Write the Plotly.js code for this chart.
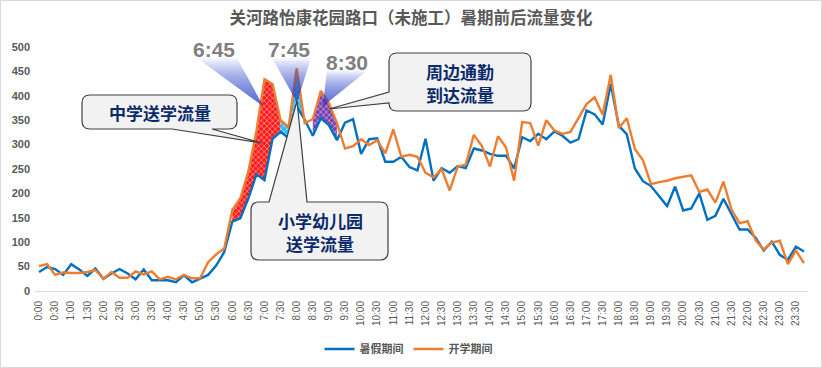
<!DOCTYPE html>
<html>
<head>
<meta charset="utf-8">
<script src="https://cdn.plot.ly/plotly-3.0.1.min.js"></script>
<style>
  html, body { margin: 0; padding: 0; background: #ffffff; }
  #chart { width: 822px; height: 368px; }
</style>
</head>
<body>
<div id="chart"></div>
<script>
// ---------------- DATA ----------------
const times = [
  '0:00','0:15','0:30','0:45','1:00','1:15','1:30','1:45','2:00','2:15','2:30','2:45',
  '3:00','3:15','3:30','3:45','4:00','4:15','4:30','4:45','5:00','5:15','5:30','5:45',
  '6:00','6:15','6:30','6:45','7:00','7:15','7:30','7:45','8:00','8:15','8:30','8:45',
  '9:00','9:15','9:30','9:45','10:00','10:15','10:30','10:45','11:00','11:15','11:30','11:45',
  '12:00','12:15','12:30','12:45','13:00','13:15','13:30','13:45','14:00','14:15','14:30','14:45',
  '15:00','15:15','15:30','15:45','16:00','16:15','16:30','16:45','17:00','17:15','17:30','17:45',
  '18:00','18:15','18:30','18:45','19:00','19:15','19:30','19:45','20:00','20:15','20:30','20:45',
  '21:00','21:15','21:30','21:45','22:00','22:15','22:30','22:45','23:00','23:15','23:30','23:45'
];
const tickLabels = times.filter((t, i) => i % 2 === 0);

const seriesNames = ['暑假期间', '开学期间'];

const summer = [
  39, 49, 45, 33, 55, 44, 31, 46, 25, 36, 45, 36,
  24, 44, 22, 22, 22, 18, 32, 18, 26, 33, 52, 80,
  142, 149, 190, 239, 227, 312, 326, 313, 378, 351, 318, 354,
  340, 309, 345, 352, 281, 311, 313, 265, 265, 275, 254, 247,
  312, 226, 252, 242, 256, 252, 292, 288, 281, 277, 277, 251,
  315, 307, 322, 311, 327, 318, 304, 311, 370, 362, 341, 424,
  339, 321, 251, 225, 215, 194, 174, 214, 165, 169, 200, 146,
  154, 189, 158, 126, 126, 109, 83, 101, 74, 64, 91, 81
];

const school = [
  51, 55, 33, 38, 37, 37, 39, 43, 25, 39, 27, 27,
  40, 34, 40, 24, 29, 24, 33, 26, 26, 59, 75, 87,
  166, 190, 245, 328, 434, 424, 350, 336, 456, 344, 352, 410,
  385, 344, 292, 297, 311, 299, 309, 282, 331, 275, 279, 275,
  242, 233, 250, 206, 255, 259, 320, 297, 255, 317, 294, 226,
  346, 344, 298, 350, 329, 322, 326, 356, 383, 397, 361, 443,
  334, 354, 291, 268, 219, 223, 226, 231, 234, 237, 203, 208,
  181, 224, 167, 139, 143, 104, 85, 99, 103, 55, 83, 57
];

// highlighted ranges (by time label): start, end
const bands = [
  { from: '6:00', to: '7:30', color: '#ff1a1a' },
  { from: '7:30', to: '8:15', color: '#1fb8f0' },
  { from: '8:30', to: '9:15', color: '#7a3fb0' }
];

// ---------------- CHART ----------------
const xIdx = times.map((t, i) => i);

// plot-area geometry in pixels (for decoration placement)
const W = 822, H = 368;
const PL = 35, PR = 808, PT = 47, PB = 291;
const fx = x => (x - PL) / (PR - PL);
const fy = y => (PB - y) / (PB - PT);
const P = (x, y) => fx(x).toFixed(5) + ',' + fy(y).toFixed(5);

const traces = [];

bands.forEach(b => {
  const a = times.indexOf(b.from), e = times.indexOf(b.to);
  const xs = [], ys = [];
  for (let i = a; i <= e; i++) { xs.push(xIdx[i]); ys.push(school[i]); }
  for (let i = e; i >= a; i--) { xs.push(xIdx[i]); ys.push(summer[i]); }
  traces.push({
    x: xs, y: ys, type: 'scatter', mode: 'lines', fill: 'toself',
    line: { width: 0 }, fillcolor: b.color,
    fillpattern: { shape: 'x', bgcolor: b.color, fgcolor: '#ffffff', size: 4, solidity: 0.2 },
    hoverinfo: 'skip', showlegend: false
  });
});

traces.push({
  x: xIdx, y: summer, name: seriesNames[0], type: 'scatter', mode: 'lines',
  line: { color: '#0070C0', width: 2.4 }
});
traces.push({
  x: xIdx, y: school, name: seriesNames[1], type: 'scatter', mode: 'lines',
  line: { color: '#ED7D31', width: 2.4 }
});

// ---------- decorations ----------
const shapes = [];

// outer border
shapes.push({
  type: 'rect', xref: 'paper', yref: 'paper',
  x0: fx(0.5), x1: fx(821.5), y0: fy(367.5), y1: fy(0.5),
  line: { color: '#d9d9d9', width: 1 }, fillcolor: 'rgba(0,0,0,0)', layer: 'below'
});

// spotlight cones (stepped gradient)
function cone(tl, tr, apex) {
  const N = 30;
  for (let k = N; k >= 1; k--) {
    const f = k / N;
    const l = [apex[0] + f * (tl[0] - apex[0]), apex[1] + f * (tl[1] - apex[1])];
    const r = [apex[0] + f * (tr[0] - apex[0]), apex[1] + f * (tr[1] - apex[1])];
    shapes.push({
      type: 'path', xref: 'paper', yref: 'paper',
      path: 'M' + P(apex[0], apex[1]) + ' L' + P(l[0], l[1]) + ' L' + P(r[0], r[1]) + ' Z',
      fillcolor: 'rgba(35,75,205,0.045)', line: { width: 0 }, layer: 'above'
    });
  }
}
cone([197, 58], [237, 58], [263, 106]);
cone([272, 58], [311, 58], [297, 102]);
cone([327, 70], [368, 70], [323, 106]);

// callout boxes
function callout(x0, y0, x1, y1, r, w) {
  let d = 'M' + P(x0 + r, y0);
  if (w.side === 'top') d += ' L' + P(w.a, y0) + ' L' + P(w.tx, w.ty) + ' L' + P(w.b, y0);
  d += ' L' + P(x1 - r, y0) + ' Q' + P(x1, y0) + ' ' + P(x1, y0 + r);
  d += ' L' + P(x1, y1 - r) + ' Q' + P(x1, y1) + ' ' + P(x1 - r, y1);
  if (w.side === 'bottom') d += ' L' + P(w.b, y1) + ' L' + P(w.tx, w.ty) + ' L' + P(w.a, y1);
  d += ' L' + P(x0 + r, y1) + ' Q' + P(x0, y1) + ' ' + P(x0, y1 - r);
  if (w.side === 'left') d += ' L' + P(x0, w.b) + ' L' + P(w.tx, w.ty) + ' L' + P(x0, w.a);
  d += ' L' + P(x0, y0 + r) + ' Q' + P(x0, y0) + ' ' + P(x0 + r, y0) + ' Z';
  shapes.push({
    type: 'path', xref: 'paper', yref: 'paper', path: d,
    fillcolor: '#f2f2f2', line: { color: '#404040', width: 1.2 }, layer: 'above'
  });
}
callout(82, 95, 237, 129, 8, { side: 'bottom', a: 172, b: 212, tx: 262, ty: 143 });
callout(251, 202, 388, 260, 8, { side: 'top', a: 269, b: 307, tx: 297, ty: 101 });
callout(389, 53, 531, 111, 8, { side: 'left', a: 92, b: 103, tx: 329, ty: 109 });

const boxFont = { family: 'Noto Sans CJK SC, sans-serif', size: 17, color: '#0b2a6b', weight: 'bold' };
const timeFont = { family: 'Liberation Sans, Arial, sans-serif', size: 21, color: '#7f7f7f', weight: 'bold' };

const annotations = [
  { text: '中学送学流量', x: fx(160), y: fy(112), font: boxFont },
  { text: '小学幼儿园', x: fx(320), y: fy(220), font: boxFont },
  { text: '送学流量', x: fx(320), y: fy(243), font: boxFont },
  { text: '周边通勤', x: fx(460), y: fy(71), font: boxFont },
  { text: '到达流量', x: fx(460), y: fy(94), font: boxFont },
  { text: '6:45', x: fx(214), y: fy(49), font: timeFont },
  { text: '7:45', x: fx(289), y: fy(49), font: timeFont },
  { text: '8:30', x: fx(347), y: fy(62), font: timeFont }
].map(a => Object.assign({
  xref: 'paper', yref: 'paper', showarrow: false,
  xanchor: 'center', yanchor: 'middle', align: 'center'
}, a));

const layout = {
  width: W, height: H,
  margin: { l: PL, r: W - PR, t: PT, b: H - PB, pad: 0 },
  paper_bgcolor: '#ffffff', plot_bgcolor: '#ffffff',
  font: { family: 'Liberation Sans, Arial, Noto Sans CJK SC, sans-serif', color: '#595959' },
  title: {
    text: '关河路怡康花园路口（未施工）暑期前后流量变化',
    x: 0.5, xref: 'container', y: 1 - 18 / H, yref: 'container', yanchor: 'middle',
    font: { family: 'Noto Sans CJK SC, sans-serif', size: 16.5, color: '#595959', weight: 'bold' }
  },
  xaxis: {
    range: [-0.5, 95.5], tickmode: 'array',
    tickvals: xIdx.filter(i => i % 2 === 0), ticktext: tickLabels,
    tickangle: -90, tickfont: { size: 10, color: '#595959' },
    showgrid: false, zeroline: false, showline: true, linecolor: '#d9d9d9', linewidth: 1,
    ticks: '', ticklabelstandoff: 5, fixedrange: true, automargin: false
  },
  yaxis: {
    range: [0, 500], dtick: 50, tickmode: 'linear', tick0: 0,
    tickfont: { size: 11, color: '#595959', weight: 'bold' },
    showgrid: false, zeroline: false, showline: false, ticks: '',
    ticklabelstandoff: 4, fixedrange: true, automargin: false
  },
  showlegend: true,
  legend: {
    orientation: 'h', x: 0.497, xref: 'container', xanchor: 'center',
    y: 1 - 349 / H, yref: 'container', yanchor: 'middle',
    font: { size: 11, color: '#595959', family: 'Noto Sans CJK SC, sans-serif', weight: 'bold' },
    bgcolor: 'rgba(0,0,0,0)', itemwidth: 30, traceorder: 'normal'
  },
  shapes: shapes,
  annotations: annotations
};

Plotly.newPlot('chart', traces, layout, { displayModeBar: false, staticPlot: true });
</script>
</body>
</html>
